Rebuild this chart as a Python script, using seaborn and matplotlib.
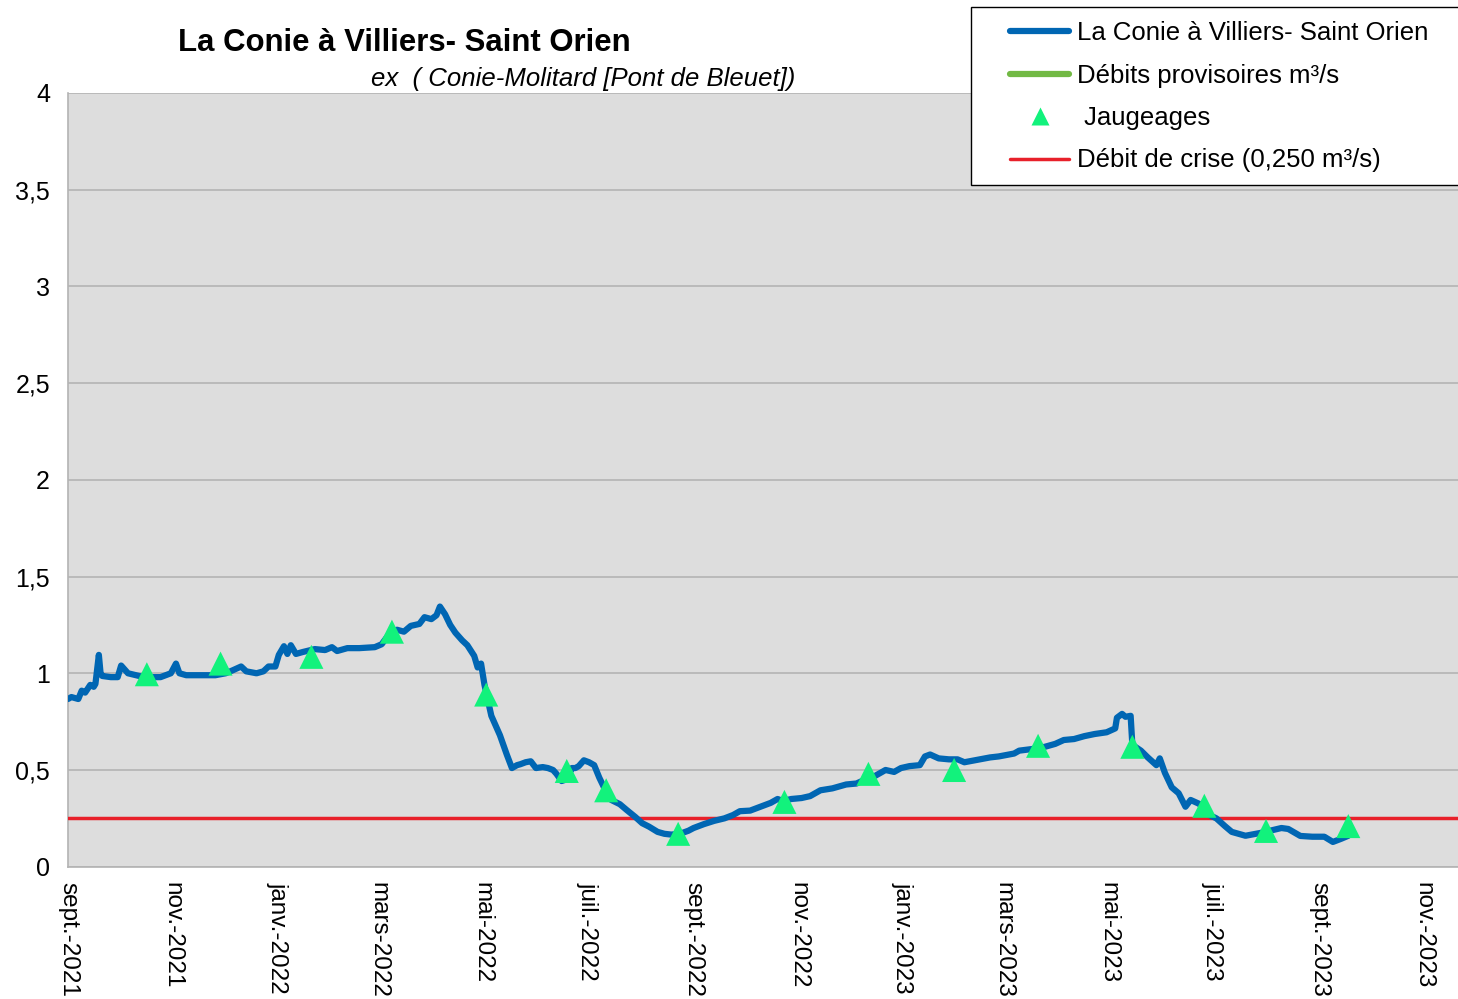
import matplotlib
matplotlib.use("Agg")
import pandas as pd
import matplotlib.pyplot as plt
from matplotlib.lines import Line2D
from matplotlib.patches import Rectangle
import seaborn as sns

# debits journaliers (m3/s)
debit_dates = [
    "2021-09-01", "2021-09-03", "2021-09-07", "2021-09-09", "2021-09-11", "2021-09-14",
    "2021-09-16", "2021-09-17", "2021-09-19", "2021-09-20", "2021-09-21", "2021-09-26",
    "2021-09-30", "2021-10-02", "2021-10-06", "2021-10-13", "2021-10-19", "2021-10-25",
    "2021-10-31", "2021-11-03", "2021-11-05", "2021-11-09", "2021-11-18", "2021-11-26",
    "2021-12-02", "2021-12-06", "2021-12-11", "2021-12-14", "2021-12-20", "2021-12-24",
    "2021-12-27", "2021-12-31", "2022-01-02", "2022-01-05", "2022-01-07", "2022-01-09",
    "2022-01-12", "2022-01-16", "2022-01-23", "2022-01-29", "2022-02-02", "2022-02-05",
    "2022-02-11", "2022-02-18", "2022-02-27", "2022-03-03", "2022-03-08", "2022-03-12",
    "2022-03-16", "2022-03-20", "2022-03-25", "2022-03-28", "2022-04-01", "2022-04-04",
    "2022-04-06", "2022-04-09", "2022-04-12", "2022-04-15", "2022-04-19", "2022-04-22",
    "2022-04-26", "2022-04-28", "2022-04-30", "2022-05-02", "2022-05-04", "2022-05-06",
    "2022-05-11", "2022-05-15", "2022-05-18", "2022-05-21", "2022-05-23", "2022-05-26",
    "2022-05-29", "2022-06-01", "2022-06-05", "2022-06-08", "2022-06-11", "2022-06-13",
    "2022-06-16", "2022-06-19", "2022-06-22", "2022-06-24", "2022-06-26", "2022-06-29",
    "2022-07-02", "2022-07-05", "2022-07-08", "2022-07-11", "2022-07-15", "2022-07-20",
    "2022-07-24", "2022-07-29", "2022-08-02", "2022-08-06", "2022-08-11", "2022-08-15",
    "2022-08-19", "2022-08-24", "2022-08-29", "2022-09-01", "2022-09-07", "2022-09-13",
    "2022-09-19", "2022-09-24", "2022-09-28", "2022-10-04", "2022-10-10", "2022-10-16",
    "2022-10-20", "2022-10-23", "2022-10-28", "2022-11-03", "2022-11-08", "2022-11-14",
    "2022-11-21", "2022-11-29", "2022-12-05", "2022-12-10", "2022-12-16", "2022-12-22",
    "2022-12-27", "2022-12-31", "2023-01-05", "2023-01-11", "2023-01-14", "2023-01-17",
    "2023-01-22", "2023-01-28", "2023-02-02", "2023-02-06", "2023-02-12", "2023-02-21",
    "2023-02-26", "2023-03-07", "2023-03-10", "2023-03-19", "2023-03-25", "2023-03-31",
    "2023-04-05", "2023-04-11", "2023-04-17", "2023-04-23", "2023-04-30", "2023-05-05",
    "2023-05-06", "2023-05-09", "2023-05-11", "2023-05-14", "2023-05-15", "2023-05-20",
    "2023-05-24", "2023-05-29", "2023-05-31", "2023-06-03", "2023-06-07", "2023-06-11",
    "2023-06-15", "2023-06-18", "2023-06-23", "2023-06-29", "2023-07-03", "2023-07-08",
    "2023-07-12", "2023-07-20", "2023-07-29", "2023-08-10", "2023-08-14", "2023-08-21",
    "2023-08-28", "2023-09-04", "2023-09-09", "2023-09-14", "2023-09-18",
]
debit_valeurs = [
    0.867, 0.877, 0.867, 0.91, 0.90, 0.94,
    0.93, 0.945, 1.095, 1.00, 0.986, 0.98,
    0.98, 1.04, 1.00, 0.985, 0.98, 0.98,
    1.00, 1.05, 1.00, 0.99, 0.99, 0.99,
    1.00, 1.015, 1.035, 1.01, 1.00, 1.01,
    1.035, 1.035, 1.095, 1.14, 1.10, 1.145,
    1.10, 1.11, 1.125, 1.12, 1.135, 1.115,
    1.13, 1.13, 1.135, 1.15, 1.21, 1.225,
    1.215, 1.245, 1.255, 1.29, 1.28, 1.30,
    1.345, 1.305, 1.25, 1.21, 1.17, 1.145,
    1.09, 1.03, 1.05, 0.94, 0.86, 0.78,
    0.68, 0.58, 0.51, 0.525, 0.53, 0.54,
    0.545, 0.51, 0.515, 0.51, 0.50, 0.48,
    0.443, 0.452, 0.51, 0.51, 0.52, 0.55,
    0.54, 0.525, 0.46, 0.405, 0.345, 0.323,
    0.293, 0.257, 0.225, 0.207, 0.18, 0.17,
    0.166, 0.17, 0.186, 0.20, 0.22, 0.237,
    0.25, 0.267, 0.287, 0.29, 0.31, 0.33,
    0.35, 0.34, 0.35, 0.355, 0.365, 0.395,
    0.405, 0.425, 0.43, 0.45, 0.47, 0.50,
    0.49, 0.51, 0.52, 0.525, 0.57, 0.58,
    0.56, 0.555, 0.555, 0.54, 0.55, 0.565,
    0.57, 0.585, 0.60, 0.61, 0.62, 0.635,
    0.655, 0.66, 0.675, 0.686, 0.695, 0.715,
    0.77, 0.79, 0.775, 0.78, 0.63, 0.60,
    0.565, 0.525, 0.56, 0.485, 0.41, 0.38,
    0.31, 0.345, 0.325, 0.267, 0.25, 0.21,
    0.18, 0.16, 0.175, 0.20, 0.195, 0.159,
    0.155, 0.155, 0.128, 0.145, 0.16,
]

# jaugeages ponctuels
jaugeage_dates = [
    "2021-10-17", "2021-11-29", "2022-01-21", "2022-03-09", "2022-05-03", "2022-06-19",
    "2022-07-12", "2022-08-23", "2022-10-24", "2022-12-12", "2023-01-31", "2023-03-21",
    "2023-05-15", "2023-06-26", "2023-08-01", "2023-09-18",
]
jaugeage_valeurs = [
    0.995, 1.05, 1.085, 1.215, 0.89, 0.495,
    0.395, 0.17, 0.335, 0.48, 0.50, 0.625,
    0.62, 0.315, 0.185, 0.21,
]

DEBIT_CRISE = 0.25

tick_dates = ["2021-09-01", "2021-11-01", "2022-01-01", "2022-03-01", "2022-05-01",
              "2022-07-01", "2022-09-01", "2022-11-01", "2023-01-01", "2023-03-01",
              "2023-05-01", "2023-07-01", "2023-09-01", "2023-11-01"]
tick_labels = ["sept.-2021", "nov.-2021", "janv.-2022", "mars-2022", "mai-2022",
               "juil.-2022", "sept.-2022", "nov.-2022", "janv.-2023", "mars-2023",
               "mai-2023", "juil.-2023", "sept.-2023", "nov.-2023"]
y_ticks = [0, 0.5, 1, 1.5, 2, 2.5, 3, 3.5, 4]
y_labels = ["0", "0,5", "1", "1,5", "2", "2,5", "3", "3,5", "4"]

BLEU = "#0066b3"
VERT = "#72b944"
TRIANGLE = "#12f27c"
ROUGE = "#e8202a"
GRIS = "#b3b3b3"

sns.set_style("whitegrid", {"axes.facecolor": "#dddddd", "grid.color": GRIS,
                            "axes.edgecolor": GRIS, "text.color": "black",
                            "xtick.color": "black", "ytick.color": "black"})
plt.rcParams['font.family'] = ['Liberation Sans', 'DejaVu Sans']

df = pd.DataFrame({"date": pd.to_datetime(debit_dates), "debit": debit_valeurs})
dj = pd.DataFrame({"date": pd.to_datetime(jaugeage_dates), "debit": jaugeage_valeurs})

W, H = 1458, 999
fig = plt.figure(figsize=(W / 100, H / 100), dpi=100)
ax = fig.add_axes([68 / W, 1 - 866.7 / H, 1 - 68 / W, (866.7 - 93) / H])

ax.axhline(DEBIT_CRISE, color=ROUGE, lw=2.5, zorder=3)
sns.lineplot(data=df, x="date", y="debit", ax=ax, color=BLEU, linewidth=4.5,
             solid_joinstyle="round", solid_capstyle="round", zorder=4)
sns.scatterplot(data=dj, x="date", y="debit", ax=ax, marker="^", s=300,
                color=TRIANGLE, edgecolor="none", zorder=5)

ax.set_xlim(pd.Timestamp("2021-09-01"), pd.Timestamp("2023-11-21"))
ax.set_ylim(0, 4)
ax.set_xticks(pd.to_datetime(tick_dates))
ax.set_xticklabels(tick_labels, rotation=270, ha="center", va="top", fontsize=17.5)
ax.set_yticks(y_ticks)
ax.set_yticklabels(y_labels, fontsize=18)
ax.set_xlabel("")
ax.set_ylabel("")
ax.grid(axis="x", visible=False)
ax.grid(axis="y", color=GRIS, lw=1.2)
ax.tick_params(axis="both", direction="out", color=GRIS, labelcolor="black",
               length=8, width=1.2)
ax.tick_params(axis="x", pad=3)
ax.tick_params(axis="y", pad=5)
for s in ["top", "right"]:
    ax.spines[s].set_visible(False)
for s in ["left", "bottom"]:
    ax.spines[s].set_color(GRIS)
    ax.spines[s].set_linewidth(1.2)

fig.text(404 / W, 1 - 43 / H, "La Conie à Villiers- Saint Orien", ha="center", va="center",
         fontsize=22.4, fontweight="bold", color="black")
fig.text(583 / W, 1 - 79 / H, "ex  ( Conie-Molitard [Pont de Bleuet])", ha="center",
         va="center", fontsize=18.5, style="italic", color="black")

# cadre de la legende
fig.patches.append(Rectangle((970.7 / W, 1 - 185 / H), 0.5, (185 - 6.7) / H,
                             transform=fig.transFigure, fc="white", ec="black",
                             lw=1, zorder=8))
handles = [
    Line2D([], [], color=BLEU, lw=4.5),
    Line2D([], [], color=VERT, lw=4.5),
    Line2D([], [], ls="none", marker="^", color=TRIANGLE, ms=13, mec="none"),
    Line2D([], [], color=ROUGE, lw=2.5),
]
labels = ["La Conie à Villiers- Saint Orien", "Débits provisoires m³/s",
          " Jaugeages", "Débit de crise (0,250 m³/s)"]
leg = fig.legend(handles, labels, loc="upper left", bbox_to_anchor=(1010 / W, 1 - 21 / H),
                 frameon=False, fontsize=18.5, handlelength=2.3, handletextpad=0.3,
                 labelspacing=0.72, borderpad=0, borderaxespad=0)
leg.set_zorder(9)
for t in leg.get_texts():
    t.set_color("black")

fig.savefig("out.png", dpi=100)
